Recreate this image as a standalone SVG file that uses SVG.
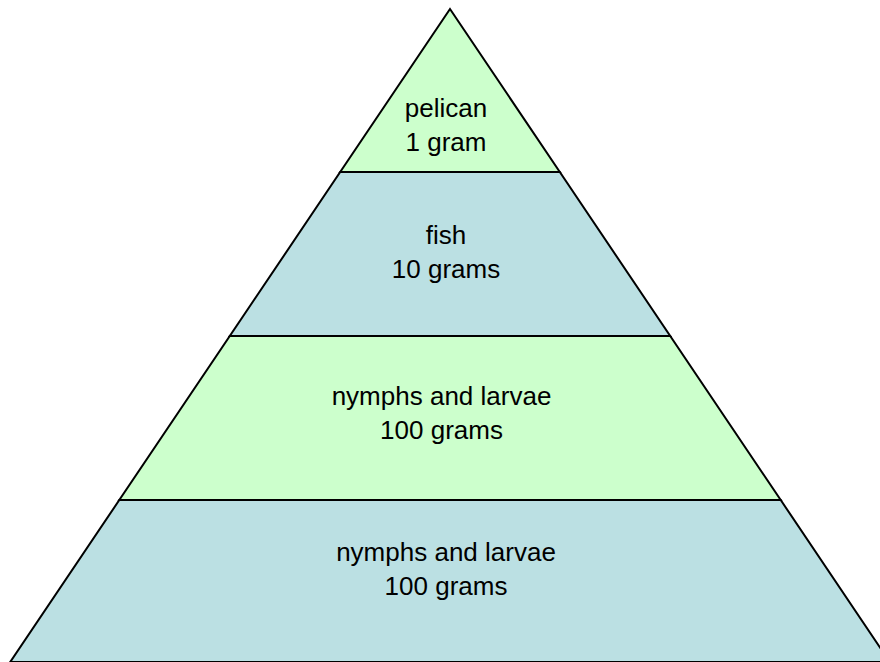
<svg xmlns="http://www.w3.org/2000/svg" width="880" height="662" viewBox="0 0 880 662">
<style>
.band{stroke:#000;stroke-width:2;stroke-linejoin:miter}
.g{fill:#CCFFCC}
.b{fill:#BBE0E3}
text{font-family:"Liberation Sans",Arial,sans-serif;font-size:26px;fill:#000;text-anchor:middle}
</style>
<rect width="880" height="662" fill="#fff"/>
<g id="level4">
<polygon class="band b" points="119.3,500 780.7,500 889.8,662 10.2,662"/>
<text x="446" y="561">nymphs and larvae</text>
<text x="446" y="595">100 grams</text>
</g>
<g id="level3">
<polygon class="band g" points="229.8,336 670.2,336 780.7,500 119.3,500"/>
<text x="441.5" y="405">nymphs and larvae</text>
<text x="441.5" y="439">100 grams</text>
</g>
<g id="level2">
<polygon class="band b" points="340.2,172 559.8,172 670.2,336 229.8,336"/>
<text x="446" y="243.5">fish</text>
<text x="446" y="277.5">10 grams</text>
</g>
<g id="level1">
<polygon class="band g" points="450,9 559.8,172 340.2,172"/>
<text x="446" y="117">pelican</text>
<text x="446" y="151">1 gram</text>
</g>
<g id="connectors"></g>
</svg>
